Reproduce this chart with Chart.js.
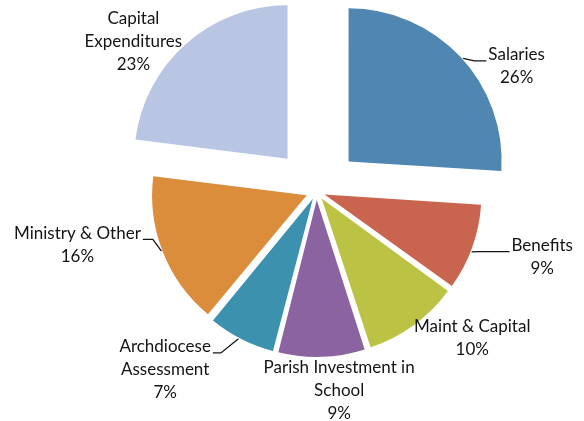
<!DOCTYPE html>
<html lang="en">
<head>
    <meta charset="UTF-8">
    <title>Budget</title>
    <style>
        html, body { margin: 0; padding: 0; background: #fff; }
        #wrap { width: 584px; height: 421px; }
    </style>
</head>
<body>
    <div id="wrap">
        <canvas id="myChart"></canvas>
    </div>

    <script src="https://cdn.jsdelivr.net/npm/chart.js"></script>

    <script>
        /* data */
        const categories = ['Salaries', 'Benefits', 'Maint & Capital', 'Parish Investment in School',
                            'Archdiocese Assessment', 'Ministry & Other', 'Capital Expenditures'];
        const shares = [26, 9, 10, 9, 7, 16, 23];
        const labelLines = [
            ['Salaries'], ['Benefits'], ['Maint & Capital'], ['Parish Investment in', 'School'],
            ['Archdiocese', 'Assessment'], ['Ministry & Other'], ['Capital', 'Expenditures']
        ];
        const colors = ['#4f86b2', '#c9654f', '#bcc244', '#8a63a0', '#3c92ae', '#dc8d3c', '#b8c5e3'];

        // how far each slice is pulled out (chart.js arc offset)
        const offsets = [176, 34, 35, 34, 32, 42, 175];

        // translation chart.js applies to an arc for its offset
        function shift(arc) {
            const off = (arc.options.offset || 0) / 4;
            const fix = 1 - Math.sin(Math.min(Math.PI, arc.circumference || 0));
            const mid = (arc.startAngle + arc.endAngle) / 2;
            const d = off * (1 + fix);
            return { x: Math.cos(mid) * d, y: Math.sin(mid) * d };
        }
        const rad = deg => (deg - 90) * Math.PI / 180;

        const pieLabels = {
            id: 'pieLabels',
            afterDatasetsDraw(chart, args, opts) {
                const ctx = chart.ctx;
                const arcs = chart.getDatasetMeta(0).data;
                ctx.save();
                ctx.font = opts.font;
                ctx.fillStyle = '#141414';
                ctx.strokeStyle = '#141414';
                ctx.lineWidth = 1.3;
                ctx.textAlign = 'center';
                ctx.textBaseline = 'middle';
                arcs.forEach((arc, i) => {
                    const cx = arc.x, cy = arc.y;
                    const [deg, dist] = opts.place[i];
                    const px = cx + Math.cos(rad(deg)) * dist;
                    const py = cy + Math.sin(rad(deg)) * dist;
                    const lines = labelLines[i].concat(shares[i] + '%');
                    const y0 = py - (lines.length - 1) * opts.lineHeight / 2;
                    lines.forEach((t, k) => ctx.fillText(t, px, y0 + k * opts.lineHeight));

                    const lead = opts.leaders[i];
                    if (lead) {
                        const s = shift(arc);
                        const r = arc.outerRadius + 1;
                        const ex = cx + s.x + Math.cos(rad(lead.edge)) * r;
                        const ey = cy + s.y + Math.sin(rad(lead.edge)) * r;
                        const w = ctx.measureText(lines[0]).width;
                        const dir = lead.side === 'right' ? -1 : 1;
                        const sx = px + dir * (w / 2 + 2);
                        const sy = y0 + 6;
                        ctx.beginPath();
                        ctx.moveTo(sx, sy);
                        ctx.lineTo(sx + dir * lead.flat, sy);
                        ctx.lineTo(ex, ey);
                        ctx.stroke();
                    }
                });
                ctx.restore();
            }
        };

        const ctx = document.getElementById('myChart');

        new Chart(ctx, {
            type: 'pie',
            data: {
                labels: categories,
                datasets: [{
                    data: shares,
                    backgroundColor: colors,
                    offset: offsets,
                    borderWidth: 0,
                    clip: false
                }]
            },
            options: {
                responsive: true,
                maintainAspectRatio: false,
                animation: false,
                radius: 153,
                layout: { padding: { left: 49, right: 0, top: 0, bottom: 38 } },
                plugins: {
                    legend: { display: false },
                    tooltip: { enabled: false },
                    pieLabels: {
                        font: '17px Lato, "Open Sans", sans-serif',
                        lineHeight: 23,
                        place: [[58, 236], [106.2, 235], [133.3, 214], [173.5, 200],
                                [220.3, 234], [257.4, 245], [309.4, 237]],
                        leaders: [
                            { edge: 48, side: 'right', flat: 12 },
                            { edge: 111.4, side: 'right', flat: 30 },
                            null, null,
                            { edge: 208, side: 'left', flat: 8 },
                            { edge: 249, side: 'left', flat: 10 },
                            null
                        ]
                    }
                }
            },
            plugins: [pieLabels]
        });
    </script>
</body>
</html>
